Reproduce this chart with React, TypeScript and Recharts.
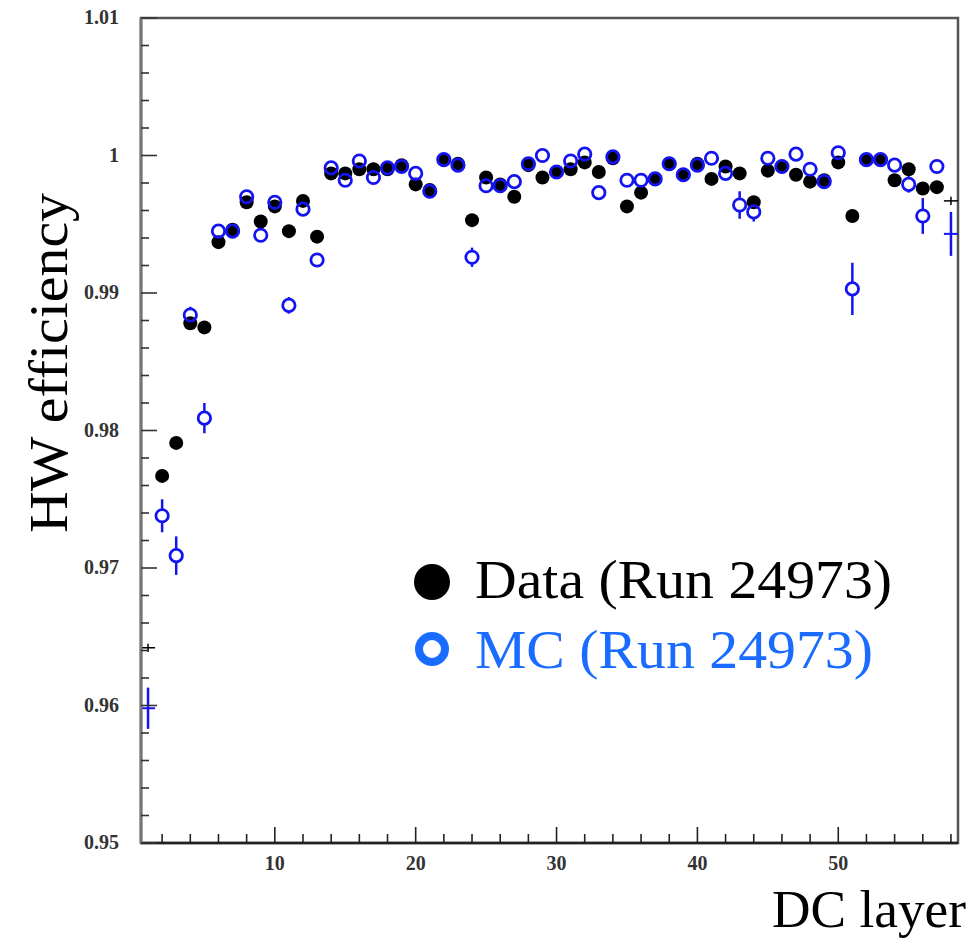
import { ScatterChart, Scatter, XAxis, YAxis, ErrorBar, ReferenceArea, Legend } from 'recharts'

// DC layers 1..58 (bin centres)
const layers = [
  1, 2, 3, 4, 5, 6, 7, 8, 9, 10, 11, 12, 13, 14, 15, 16, 17, 18, 19, 20,
  21, 22, 23, 24, 25, 26, 27, 28, 29, 30, 31, 32, 33, 34, 35, 36, 37, 38, 39, 40,
  41, 42, 43, 44, 45, 46, 47, 48, 49, 50, 51, 52, 53, 54, 55, 56, 57, 58,
]

const dataEff = [
  0.9642, 0.9767, 0.9791, 0.9878, 0.9875, 0.9937, 0.9946, 0.9966, 0.9952, 0.9963,
  0.9945, 0.9967, 0.9941, 0.9987, 0.9987, 0.999, 0.999, 0.999, 0.9993, 0.9979,
  0.9975, 0.9997, 0.9994, 0.9953, 0.9984, 0.9979, 0.997, 0.9993, 0.9984, 0.9988,
  0.999, 0.9995, 0.9988, 0.9998, 0.9963, 0.9973, 0.9983, 0.9994, 0.9986, 0.9994,
  0.9983, 0.9992, 0.9987, 0.9966, 0.9989, 0.9992, 0.9986, 0.9981, 0.9982, 0.9995,
  0.9956, 0.9997, 0.9997, 0.9982, 0.999, 0.9976, 0.9977, 0.9967,
]

const dataErr = [
  0.0003, 0.0004, 0.0004, 0.0003, 0.0003, 0.0002, 0.0002, 0.0002, 0.0002, 0.0002,
  0.0002, 0.0002, 0.0002, 0.0001, 0.0001, 0.0001, 0.0001, 0.0001, 0.0001, 0.0001,
  0.0001, 0.0001, 0.0001, 0.0002, 0.0001, 0.0001, 0.0001, 0.0001, 0.0001, 0.0001,
  0.0001, 0.0001, 0.0001, 0.0001, 0.0002, 0.0001, 0.0001, 0.0001, 0.0001, 0.0001,
  0.0001, 0.0001, 0.0001, 0.0002, 0.0001, 0.0001, 0.0001, 0.0001, 0.0001, 0.0001,
  0.0002, 0.0001, 0.0001, 0.0001, 0.0001, 0.0002, 0.0002, 0.0003,
]

const mcEff = [
  0.9598, 0.9738, 0.9709, 0.9884, 0.9809, 0.9945, 0.9945, 0.997, 0.9942, 0.9966,
  0.9891, 0.9961, 0.9924, 0.9991, 0.9982, 0.9996, 0.9984, 0.9991, 0.9992, 0.9987,
  0.9974, 0.9997, 0.9993, 0.9926, 0.9978, 0.9978, 0.9981, 0.9994, 1.0, 0.9988,
  0.9996, 1.0001, 0.9973, 0.9999, 0.9982, 0.9982, 0.9983, 0.9994, 0.9986, 0.9993,
  0.9998, 0.9987, 0.9964, 0.9959, 0.9998, 0.9992, 1.0001, 0.999, 0.9981, 1.0002,
  0.9903, 0.9997, 0.9997, 0.9993, 0.9979, 0.9956, 0.9992, 0.9943,
]

const mcErr = [
  0.0015, 0.0012, 0.0014, 0.0006, 0.0011, 0.0004, 0.0004, 0.0003, 0.0004, 0.0003,
  0.0006, 0.0004, 0.0004, 0.0002, 0.0003, 0.0002, 0.0003, 0.0002, 0.0002, 0.0003,
  0.0003, 0.0002, 0.0002, 0.0007, 0.0003, 0.0003, 0.0003, 0.0002, 0.0002, 0.0002,
  0.0002, 0.0002, 0.0004, 0.0002, 0.0003, 0.0003, 0.0003, 0.0002, 0.0003, 0.0002,
  0.0002, 0.0003, 0.001, 0.0007, 0.0002, 0.0002, 0.0002, 0.0003, 0.0005, 0.0002,
  0.0019, 0.0002, 0.0002, 0.0003, 0.0006, 0.0013, 0.0004, 0.0016,
]

// first and last layer are drawn as bare error crosses (no marker)
const crossLayers = [1, 58]
const binHalfWidth = 0.5

const xTicks = [2, 4, 6, 8, 10, 12, 14, 16, 18, 20, 22, 24, 26, 28, 30, 32, 34, 36, 38, 40, 42, 44, 46, 48, 50, 52, 54, 56, 58]
const xLabelTicks = [10, 20, 30, 40, 50]
const yTicks = [
  0.95, 0.952, 0.954, 0.956, 0.958, 0.96, 0.962, 0.964, 0.966, 0.968, 0.97, 0.972, 0.974, 0.976, 0.978,
  0.98, 0.982, 0.984, 0.986, 0.988, 0.99, 0.992, 0.994, 0.996, 0.998, 1.0, 1.002, 1.004, 1.006, 1.008, 1.01,
]
const yLabelTicks = [0.95, 0.96, 0.97, 0.98, 0.99, 1.0, 1.01]

const BLUE = '#1414f0'
const LEGEND_BLUE = '#1a6bff'
const SERIF = "'Liberation Serif', 'Times New Roman', serif"

const dataPts = layers.map((layer, i) => ({ layer, eff: dataEff[i], err: dataErr[i], xErr: binHalfWidth }))
const mcPts = layers.map((layer, i) => ({ layer, eff: mcEff[i], err: mcErr[i], xErr: binHalfWidth }))

const isCross = (p: { layer: number }) => crossLayers.includes(p.layer)
const dataMarked = dataPts.filter((p) => !isCross(p))
const mcMarked = mcPts.filter((p) => !isCross(p))
const dataCross = dataPts.filter(isCross)
const mcCross = mcPts.filter(isCross)

function XTick(props: any) {
  const { x, y, payload } = props
  const major = xLabelTicks.includes(payload.value)
  return (
    <g>
      <line x1={x} x2={x} y1={y} y2={y - (major ? 16 : 9)} stroke="#222" strokeWidth={1.6} />
      {major && (
        <text x={x} y={y + 27} textAnchor="middle" fontFamily={SERIF} fontWeight="bold" fontSize={20} fill="#333">
          {payload.value}
        </text>
      )}
    </g>
  )
}

function YTick(props: any) {
  const { x, y, payload } = props
  const v = payload.value
  const major = yLabelTicks.some((t) => Math.abs(t - v) < 1e-9)
  return (
    <g>
      <line x1={x} x2={x + (major ? 16 : 8)} y1={y} y2={y} stroke="#333" strokeWidth={1.6} />
      {major && (
        <text x={x - 22} y={y + 6} textAnchor="end" fontFamily={SERIF} fontWeight="bold" fontSize={20} fill="#333">
          {v === 1 ? '1' : v.toFixed(2)}
        </text>
      )}
    </g>
  )
}

const dot = (props: any) => <circle cx={props.cx} cy={props.cy} r={7} fill="#000" />
const ring = (props: any) => <circle cx={props.cx} cy={props.cy} r={6.2} fill="none" stroke={BLUE} strokeWidth={2.8} />
const ringMask = (props: any) => <circle cx={props.cx} cy={props.cy} r={6.5} fill="#fff" />
const noMarker = () => <g />

function renderLegend() {
  return (
    <svg width={520} height={140} style={{ display: 'block' }}>
      <circle cx={32} cy={32} r={18} fill="#000" />
      <text x={75} y={48} fontFamily={SERIF} fontSize={54} fill="#000" textLength={417} lengthAdjust="spacingAndGlyphs">
        Data (Run 24973)
      </text>
      <circle cx={32} cy={99} r={13} fill="none" stroke={LEGEND_BLUE} strokeWidth={8} />
      <text x={75} y={118} fontFamily={SERIF} fontSize={54} fill={LEGEND_BLUE} textLength={398} lengthAdjust="spacingAndGlyphs">
        MC (Run 24973)
      </text>
    </svg>
  )
}

export default function App() {
  return (
    <div style={{ position: 'absolute', left: 0, top: 0, width: 976, height: 942, background: '#fff' }}>
      <ScatterChart width={976} height={942} margin={{ top: 18, right: 18, bottom: 0, left: 0 }}>
        <ReferenceArea x1={0.5} x2={58.5} y1={0.95} y2={1.01} fill="none" stroke="#555" strokeWidth={2.5} />
        <XAxis
          type="number"
          dataKey="layer"
          domain={[0.5, 58.5]}
          ticks={xTicks}
          interval={0}
          height={99}
          tickSize={0}
          tickMargin={0}
          tickLine={false}
          tick={XTick}
          axisLine={{ stroke: '#222', strokeWidth: 2.5 }}
          label={{
            content: () => (
              <text x={772} y={927} fontFamily={SERIF} fontSize={52} fill="#000" textLength={194} lengthAdjust="spacingAndGlyphs">
                DC layer
              </text>
            ),
          }}
        />
        <YAxis
          type="number"
          dataKey="eff"
          domain={[0.95, 1.01]}
          ticks={yTicks}
          interval={0}
          width={141}
          tickSize={0}
          tickMargin={0}
          tickLine={false}
          tick={YTick}
          axisLine={{ stroke: '#777', strokeWidth: 3 }}
          label={{
            content: () => (
              <text
                transform="translate(67,363) rotate(-90)"
                textAnchor="middle"
                fontFamily={SERIF}
                fontSize={54}
                fill="#000"
                textLength={340}
                lengthAdjust="spacingAndGlyphs"
              >
                HW efficiency
              </text>
            ),
          }}
        />
        {/* MC error bars with white discs so the bars stop at the ring */}
        <Scatter data={mcMarked} shape={ringMask} isAnimationActive={false} legendType="none">
          <ErrorBar dataKey="err" direction="y" width={0} stroke={BLUE} strokeWidth={2.5} isAnimationActive={false} />
        </Scatter>
        <Scatter name="Data (Run 24973)" data={dataMarked} shape={dot} isAnimationActive={false}>
          <ErrorBar dataKey="err" direction="y" width={0} stroke="#000" strokeWidth={1.5} isAnimationActive={false} />
        </Scatter>
        <Scatter name="MC (Run 24973)" data={mcMarked} shape={ring} isAnimationActive={false} />
        <Scatter data={dataCross} shape={noMarker} isAnimationActive={false} legendType="none">
          <ErrorBar dataKey="err" direction="y" width={0} stroke="#000" strokeWidth={1.5} isAnimationActive={false} />
          <ErrorBar dataKey="xErr" direction="x" width={0} stroke="#000" strokeWidth={1.5} isAnimationActive={false} />
        </Scatter>
        <Scatter data={mcCross} shape={noMarker} isAnimationActive={false} legendType="none">
          <ErrorBar dataKey="err" direction="y" width={0} stroke={BLUE} strokeWidth={2.5} isAnimationActive={false} />
          <ErrorBar dataKey="xErr" direction="x" width={0} stroke={BLUE} strokeWidth={2} isAnimationActive={false} />
        </Scatter>
        <Legend
          layout="horizontal"
          verticalAlign="middle"
          align="center"
          content={renderLegend}
          wrapperStyle={{ left: 400, top: 550, width: 520, height: 140 }}
        />
      </ScatterChart>
    </div>
  )
}
